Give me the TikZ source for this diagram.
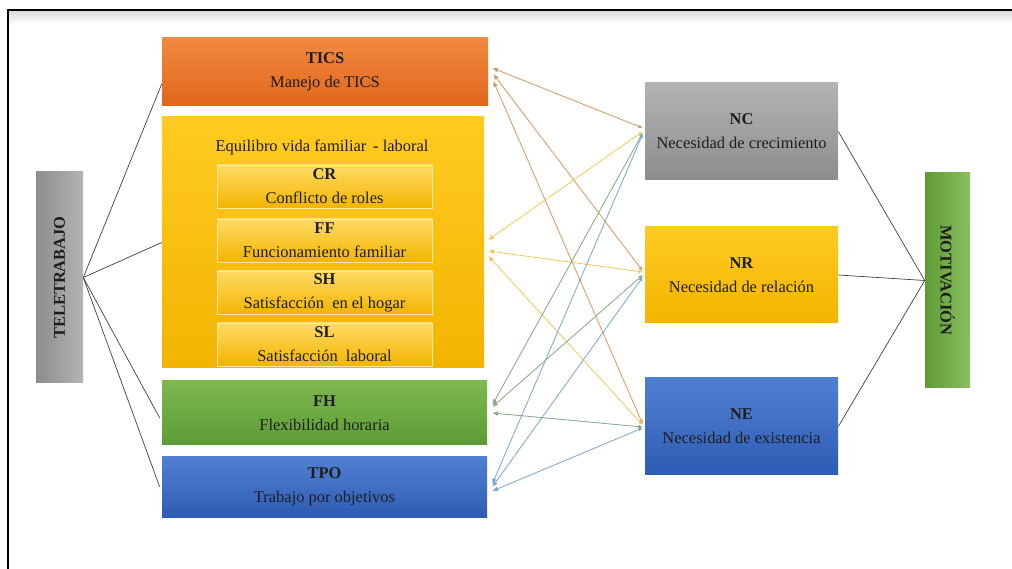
\documentclass[tikz,border=0pt]{standalone}
\usepackage{fontspec}
\setmainfont{Liberation Serif}
\usetikzlibrary{calc,arrows.meta}

\definecolor{naranjaA}{HTML}{F28A42}
\definecolor{naranjaB}{HTML}{E0661A}
\definecolor{amarilloA}{HTML}{FFCB22}
\definecolor{amarilloB}{HTML}{F2B400}
\definecolor{verdeA}{HTML}{7DB94F}
\definecolor{verdeB}{HTML}{5E9B36}
\definecolor{azulA}{HTML}{5080D2}
\definecolor{azulB}{HTML}{2F5CB4}
\definecolor{grisA}{HTML}{B4B4B4}
\definecolor{grisB}{HTML}{8C8C8C}
\definecolor{texto}{HTML}{1E1E1E}
\definecolor{lnaranja}{HTML}{D89A62}
\definecolor{lamarillo}{HTML}{F0CA5A}
\definecolor{lverde}{HTML}{8AA88A}
\definecolor{lazul}{HTML}{7FA8D2}

\def\u{0.025cm}

\tikzset{
  caja/.style={inner sep=0pt, align=center, text=texto,
    font=\fontsize{11.7}{17}\selectfont},
  naranja/.style={caja, top color=naranjaA, bottom color=naranjaB},
  amarillo/.style={caja, top color=amarilloA, bottom color=amarilloB},
  subcaja/.style={caja, top color=amarilloA!70!white, bottom color=amarilloB,
    draw=amarilloA!40!white, line width=0.6pt},
  verde/.style={caja, top color=verdeA, bottom color=verdeB},
  azul/.style={caja, top color=azulA, bottom color=azulB},
  gris/.style={caja, top color=grisA, bottom color=grisB},
  enlace/.style={line width=0.6pt, {Latex[length=4pt,width=3.5pt]}-{Latex[length=3pt,width=3pt]}},
  linea/.style={draw=black!75, line width=0.5pt}
}

\begin{document}
\begin{tikzpicture}[x=0.025cm, y=-0.025cm]
  \useasboundingbox (0,0) rectangle (1012,569);
  % marco
  \shade[top color=black!15, bottom color=white] (8,10) rectangle (1012,24);
  \draw[line width=1.2pt] (8,569)--(8,10)--(1012,10);

  % extremos
  \node[caja, left color=grisB, right color=grisA, minimum width=47*\u, minimum height=211*\u]
    (tele) at (59.5,277.5) {};
  \node[rotate=90, font=\fontsize{11.7}{13}\selectfont\bfseries, text=texto] (teletxt) at (tele) {TELETRABAJO};
  \node[caja, left color=verdeB, right color=verdeA!90!white, minimum width=45*\u, minimum height=215*\u]
    (mot) at (947.5,280.5) {};
  \node[rotate=-90, font=\fontsize{11.7}{13}\selectfont\bfseries, text=texto] (mottxt) at (mot) {MOTIVACIÓN};

  % dimensiones del teletrabajo
  \node[naranja, minimum width=326*\u, minimum height=68*\u] (tics) at (325,72)
    {\textbf{TICS}\\Manejo de TICS};
  \node[amarillo, minimum width=322*\u, minimum height=251*\u] (evfl) at (323,242.5) {};
  \node[caja] (evfltxt) at (322,147) {Equilibro vida familiar \,- laboral};
  \node[subcaja, minimum width=215*\u, minimum height=43*\u] (cr) at (324.5,186.5)
    {\textbf{CR}\\Conflicto de roles};
  \node[subcaja, minimum width=215*\u, minimum height=43*\u] (ff) at (324.5,240.5)
    {\textbf{FF}\\Funcionamiento familiar};
  \node[subcaja, minimum width=215*\u, minimum height=43*\u] (sh) at (324.5,292.5)
    {\textbf{SH}\\Satisfacción \ en el hogar};
  \node[subcaja, minimum width=215*\u, minimum height=43*\u] (sl) at (324.5,344.5)
    {\textbf{SL}\\Satisfacción \ laboral};
  \node[verde, minimum width=325*\u, minimum height=64*\u] (fh) at (324.5,413)
    {\textbf{FH}\\Flexibilidad horaria};
  \node[azul, minimum width=325*\u, minimum height=60*\u] (tpo) at (324.5,487)
    {\textbf{TPO}\\Trabajo por objetivos};

  % necesidades
  \node[gris, minimum width=193*\u, minimum height=97*\u] (nc) at (741.5,131.5)
    {\textbf{NC}\\Necesidad de crecimiento};
  \node[amarillo, minimum width=193*\u, minimum height=96*\u] (nr) at (741.5,275)
    {\textbf{NR}\\Necesidad de relación};
  \node[azul, minimum width=193*\u, minimum height=97*\u] (ne) at (741.5,426.5)
    {\textbf{NE}\\Necesidad de existencia};

  % teletrabajo y motivacion
  \draw[linea] (tele.east) -- ($(tics.west)+(0,12)$);
  \draw[linea] (tele.east) -- (evfl.west);
  \draw[linea] (tele.east) -- ($(fh.west)+(-2,5)$);
  \draw[linea] (tele.east) -- ($(tpo.west)+(-2,0)$);
  \draw[linea] (nc.east) -- (mot.west);
  \draw[linea] (nr.east) -- (mot.west);
  \draw[linea] (ne.east) -- (mot.west);

  % relaciones
  \foreach \s/\a/\b/\t/\c/\d/\col in {
      tics/4/-4/nc/-2/-3.5/lnaranja, tics/5/2/nr/-2/-4/lnaranja, tics/5/9/ne/-2/-2.5/lnaranja,
      evfl/4/-2.5/nc/-2/0/lamarillo, evfl/4/8.5/nr/-2/-3/lamarillo, evfl/4/13.5/ne/-2/-1.5/lamarillo,
      fh/5/-8/nc/-2/1.5/lverde, fh/5/-6/nr/-2/0/lverde, fh/5/0/ne/-2/0.5/lverde,
      tpo/5/-3/nc/-2/2.5/lazul, tpo/5/0/nr/-2/2/lazul, tpo/5/4/ne/-2/1.5/lazul}
    \draw[enlace, \col] ($(\s.east)+(\a,\b)$) -- ($(\t.west)+(\c,\d)$);
\end{tikzpicture}
\end{document}
